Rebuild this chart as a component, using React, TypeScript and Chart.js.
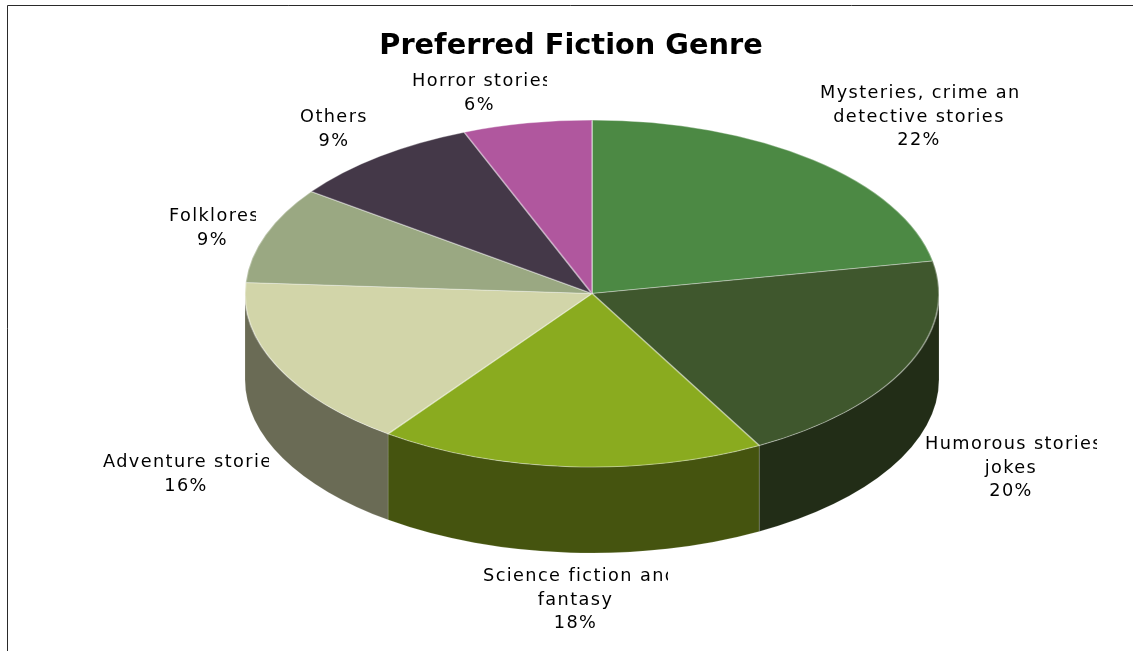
import React, { useEffect, useRef } from 'react';
import { Chart, registerables } from 'chart.js';

Chart.register(...registerables);

// ---------- data ----------
const TITLE = 'Preferred Fiction Genre';
const genres = [
  'Mysteries, crime and detective stories',
  'Humorous stories and jokes',
  'Science fiction and fantasy',
  'Adventure stories',
  'Folklores',
  'Others',
  'Horror stories',
];
const shares = [22, 20, 18, 16, 9, 9, 6];
const labelLines = [
  ['Mysteries, crime and', 'detective stories'],
  ['Humorous stories', 'jokes'],
  ['Science fiction and', 'fantasy'],
  ['Adventure stories'],
  ['Folklores'],
  ['Others'],
  ['Horror stories'],
];

// ---------- styles ----------
const topColors = ['#4c8944', '#3f572d', '#8aab1f', '#d2d5a9', '#9aa882', '#443848', '#b0579e'];
const wallColors = ['#2a4c26', '#222d17', '#45540f', '#6a6b55', '#4d5441', '#221c24', '#582c4f'];

// label boxes: left, right (clip) and centre y of first line
const labelBoxes = [
  { left: 820, right: 1018, y: 92 },
  { left: 925, right: 1097, y: 443 },
  { left: 483, right: 668, y: 575 },
  { left: 103, right: 269, y: 461 },
  { left: 169, right: 256, y: 215 },
  { left: 296, right: 372, y: 116 },
  { left: 412, right: 547, y: 80 },
];
const LINE_H = 23.5;
const ELLIPSE_X = 2.0; // horizontal stretch of the pie
const DEPTH = 86; // thickness of the 3D pie

const pie3d = {
  id: 'pie3d',
  beforeDatasetsDraw(chart: any) {
    const ctx = chart.ctx as CanvasRenderingContext2D;
    const arcs = chart.getDatasetMeta(0).data as any[];
    if (!arcs.length) return;
    const { x: cx, y: cy, outerRadius: r } = arcs[0].getProps(['x', 'y', 'outerRadius'], true);
    ctx.save();
    ctx.translate(cx, cy);
    ctx.scale(ELLIPSE_X, 1);
    arcs.forEach((arc, i) => {
      const { startAngle, endAngle } = arc.getProps(['startAngle', 'endAngle'], true);
      const a = Math.max(startAngle, 0);
      const b = Math.min(endAngle, Math.PI);
      if (b <= a) return;
      ctx.beginPath();
      ctx.arc(0, 0, r, a, b);
      ctx.arc(0, DEPTH, r, b, a, true);
      ctx.closePath();
      ctx.fillStyle = wallColors[i];
      ctx.fill();
      ctx.lineWidth = 0.5;
      ctx.strokeStyle = 'rgba(255,255,255,0.2)';
      ctx.stroke();
    });
    ctx.restore();
    ctx.save();
    ctx.translate(cx, cy);
    ctx.scale(ELLIPSE_X, 1);
    ctx.translate(-cx, -cy);
  },
  afterDatasetsDraw(chart: any) {
    chart.ctx.restore();
  },
};

const decorations = {
  id: 'decorations',
  afterDraw(chart: any) {
    const ctx = chart.ctx as CanvasRenderingContext2D;
    // frame
    ctx.save();
    ctx.strokeStyle = '#2a2a2a';
    ctx.lineWidth = 1;
    ctx.beginPath();
    ctx.moveTo(7.5, 651);
    ctx.lineTo(7.5, 5.5);
    ctx.lineTo(1133, 5.5);
    ctx.stroke();
    ctx.restore();

    // title
    ctx.save();
    ctx.fillStyle = '#000';
    ctx.font = 'bold 28.8px "DejaVu Sans"';
    ctx.textAlign = 'center';
    ctx.textBaseline = 'alphabetic';
    ctx.fillText(TITLE, 571, 54);
    ctx.restore();

    // labels
    shares.forEach((v, i) => {
      const box = labelBoxes[i];
      const lines = [...labelLines[i], `${v}%`];
      ctx.save();
      ctx.beginPath();
      ctx.rect(box.left - 40, box.y - 20, box.right - box.left + 40, LINE_H * lines.length + 20);
      ctx.clip();
      ctx.fillStyle = '#000';
      ctx.font = '17.7px "DejaVu Sans"';
      (ctx as any).letterSpacing = '1.4px';
      ctx.textBaseline = 'alphabetic';
      ctx.textAlign = 'left';
      const mid = (box.left + box.right) / 2;
      lines.forEach((line, k) => {
        const w = ctx.measureText(line).width;
        const x = w > box.right - box.left ? box.left : mid - w / 2;
        ctx.fillText(line, x, box.y + k * LINE_H + 6);
      });
      ctx.restore();
    });
  },
};

export default function App() {
  const ref = useRef<HTMLCanvasElement>(null);
  useEffect(() => {
    document.body.style.margin = '0';
    const canvas = ref.current!;
    const chart = new Chart(canvas, {
      type: 'pie',
      data: {
        labels: genres,
        datasets: [
          {
            data: shares,
            backgroundColor: topColors,
            borderColor: 'rgba(255,255,255,0.35)',
            borderWidth: 1,
            clip: false,
          } as any,
        ],
      },
      options: {
        responsive: false,
        animation: false,
        events: [],
        layout: { padding: { left: 418, right: 367, top: 119.5, bottom: 183.5 } },
        plugins: {
          legend: { display: false },
          title: { display: false },
          tooltip: { enabled: false },
        },
      },
      plugins: [pie3d, decorations],
    });
    return () => chart.destroy();
  }, []);
  return <canvas ref={ref} width={1133} height={651} style={{ display: 'block' }} />;
}
